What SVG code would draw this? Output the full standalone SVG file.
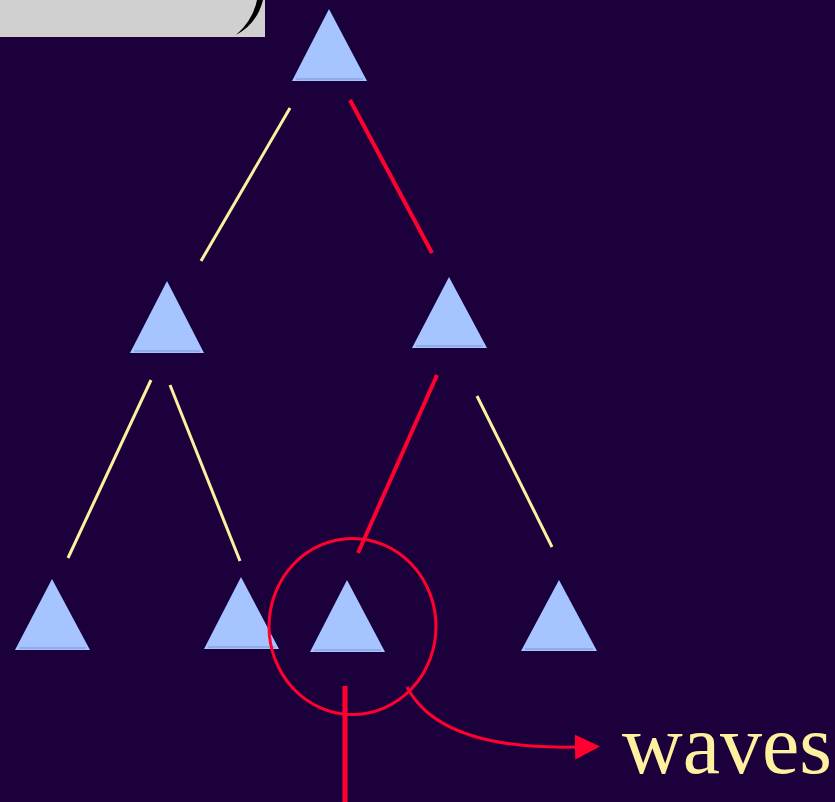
<svg xmlns="http://www.w3.org/2000/svg" width="835" height="802" viewBox="0 0 835 802">
<style>
.tri{fill:#a6c4ff}
.base{stroke:#7f8fd0;stroke-width:1.2}
.y{stroke:#fff0a0;stroke-width:3;stroke-linecap:butt}
.r{stroke:#ff0030;fill:none}
</style>
<defs>
<marker id="ah" markerWidth="26" markerHeight="26" refX="0" refY="12.5" orient="auto" markerUnits="userSpaceOnUse">
<path d="M0,0 L25,12.5 L0,25 Z" fill="#ff0030"/>
</marker>
</defs>
<rect width="835" height="802" fill="#1c003c"/>
<g id="box">
<rect x="0" y="0" width="265" height="37" fill="#d0d0d0"/>
<path d="M236,35 Q257,24 263,0 L257,0 Q253,20 236,35 Z" fill="#000"/>
</g>
<g id="connectors">
<line class="y" x1="290" y1="108" x2="201" y2="261"/>
<line class="r" stroke-width="4" x1="350" y1="100" x2="432" y2="253"/>
<line class="y" x1="151" y1="380" x2="68" y2="558"/>
<line class="y" x1="170" y1="385" x2="240" y2="561"/>
<line class="r" stroke-width="4" x1="437" y1="375" x2="358" y2="553"/>
<line class="y" x1="477" y1="396" x2="552" y2="547"/>
<line class="r" stroke-width="5" x1="345" y1="686" x2="345" y2="802"/>
<path class="r" stroke-width="3" d="M407,687 Q440,750 575,747" marker-end="url(#ah)"/>
</g>
<g id="n1"><polygon class="tri" points="329,9 367,81 292,81"/><line class="base" x1="296" y1="79" x2="363" y2="79"/></g>
<g id="n2"><polygon class="tri" points="167,281 204,353 130,353"/><line class="base" x1="134" y1="351" x2="200" y2="351"/></g>
<g id="n3"><polygon class="tri" points="449,277 487,348 412,348"/><line class="base" x1="416" y1="346" x2="483" y2="346"/></g>
<g id="n4"><polygon class="tri" points="52,579 90,650 15,650"/><line class="base" x1="19" y1="648" x2="86" y2="648"/></g>
<g id="n5"><polygon class="tri" points="241,577 279,649 204,649"/><line class="base" x1="208" y1="647" x2="275" y2="647"/></g>
<g id="n6"><polygon class="tri" points="347,580 385,652 310,652"/><line class="base" x1="314" y1="650" x2="381" y2="650"/></g>
<g id="n7"><polygon class="tri" points="559,580 597,651 521,651"/><line class="base" x1="525" y1="649" x2="593" y2="649"/></g>
<g id="circle"><ellipse class="r" stroke-width="3" cx="352.5" cy="626.5" rx="83.5" ry="88"/></g>
<g id="label"><text x="622" y="773" font-family="Liberation Serif, serif" font-size="84" fill="#fff0a0">waves</text></g>
</svg>
